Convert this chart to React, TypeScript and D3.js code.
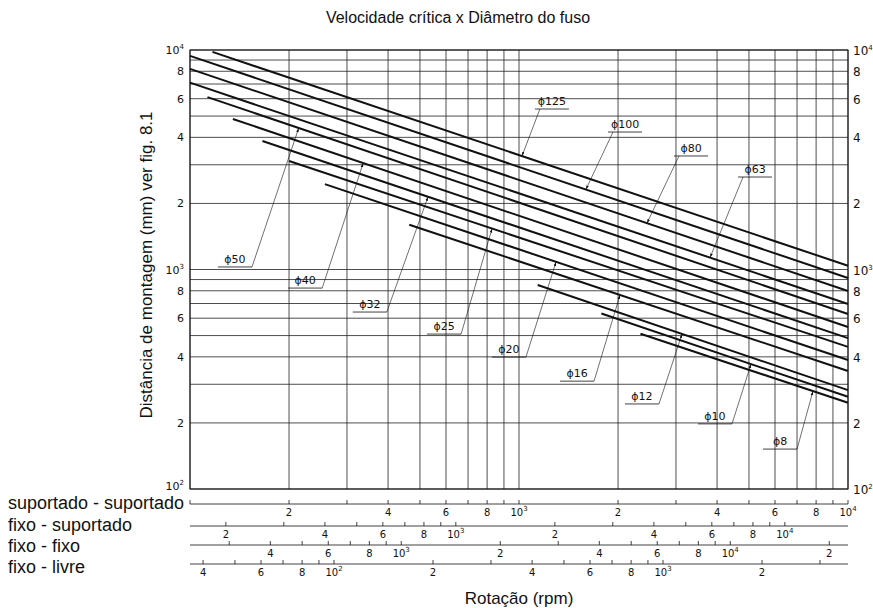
import React, { useEffect, useRef } from 'react';
import * as d3 from 'd3';

// curves: one straight line (log-log) per screw diameter
const diameters = ['125', '100', '80', '63', '50', '40', '32', '25', '20', '16', '12', '10', '8'];
const rpmStart = [117, 100, 100, 100, 113, 135, 166, 200, 257, 464, 1140, 1780, 2340];
const lenStart = [9800, 9400, 8200, 7100, 6100, 4850, 3850, 3120, 2450, 1600, 850, 630, 510];
const rpmEnd = [10000, 10000, 10000, 10000, 10000, 10000, 10000, 10000, 10000, 10000, 10000, 10000, 10000];
const lenEnd = [1040, 915, 798, 696, 627, 547, 487, 444, 387, 345, 282, 263, 247];

// callouts (label underline centre + where the arrow hits the curve)
const labelRpm = [1259, 2100, 3333, 5217, 137, 224, 352, 592, 932, 1501, 2365, 3942, 6215];
const labelLen = [5385, 4230, 3290, 2638, 1027, 823, 640, 508, 399, 310, 244, 198, 152];
const arrowRpm = [1021, 1597, 2449, 3807, 214, 336, 529, 828, 1296, 2028, 3130, 5073, 7826];

// y axis
const yTicks = [10000, 8000, 6000, 4000, 2000, 1000, 800, 600, 400, 200, 100];
const yTickText = ['10|4', '8', '6', '4', '2', '10|3', '8', '6', '4', '2', '10|2'];

// secondary rpm scales below the chart (value at left and right edge)
const mountings = ['suportado - suportado', 'fixo - suportado', 'fixo - fixo', 'fixo - livre'];
const mountMin = [100, 155.6, 228, 36.5];
const mountMax = [10000, 15560, 22800, 3650];
const labelledDigits = [2, 4, 6, 8];

const W = 873;
const H = 608;
const INK = '#111';
const numFont = '"DejaVu Sans", sans-serif';
const txtFont = '"Liberation Sans", Arial, sans-serif';

function putNum(sel: any, s: string) {
  const [base, exp] = s.split('|');
  sel.text(null);
  sel.append('tspan').text(base);
  if (exp) sel.append('tspan').attr('dy', -5).style('font-size', '7px').text(exp);
}

function fmtTick(v: number) {
  const e = Math.round(Math.log10(v));
  if (Math.abs(Math.pow(10, e) - v) < 1e-6 * v) return `10|${e}`;
  const d = Math.round(v / Math.pow(10, Math.floor(Math.log10(v))));
  return labelledDigits.includes(d) ? `${d}` : null;
}

function App() {
  const svgRef = useRef<SVGSVGElement>(null);

  useEffect(() => {
    if (!svgRef.current) return;
    const svg = d3.select(svgRef.current);
    svg.selectAll('*').remove();

    const left = 190, right = 848, top = 50, bottom = 489;
    const x = d3.scaleLog().domain([100, 10000]).range([left, right]);
    const y = d3.scaleLog().domain([100, 10000]).range([bottom, top]);

    svg.append('defs').append('marker')
      .attr('id', 'arr').attr('viewBox', '0 0 10 10')
      .attr('refX', 10).attr('refY', 5)
      .attr('markerWidth', 7).attr('markerHeight', 7)
      .attr('orient', 'auto')
      .append('path').attr('d', 'M0,2 L10,5 L0,8 Z').attr('fill', INK);

    // title
    svg.append('text')
      .attr('x', 458).attr('y', 23)
      .attr('text-anchor', 'middle')
      .style('font-family', txtFont).style('font-size', '16px').style('fill', INK)
      .text('Velocidade crítica x Diâmetro do fuso');

    // grid
    const grid = svg.append('g').attr('stroke', '#222').attr('stroke-width', 0.8);
    grid.selectAll('line.v').data(x.ticks()).join('line')
      .attr('class', 'v')
      .attr('x1', d => x(d)).attr('x2', d => x(d))
      .attr('y1', top).attr('y2', bottom);
    grid.selectAll('line.h').data(y.ticks()).join('line')
      .attr('class', 'h')
      .attr('x1', left).attr('x2', right)
      .attr('y1', d => y(d)).attr('y2', d => y(d));
    svg.append('rect')
      .attr('x', left).attr('y', top).attr('width', right - left).attr('height', bottom - top)
      .attr('fill', 'none').attr('stroke', INK).attr('stroke-width', 1);

    // y labels both sides
    yTicks.forEach((v, i) => {
      const l = svg.append('text')
        .attr('x', left - 6).attr('y', y(v) + (v === 100 ? 1 : 4)).attr('text-anchor', 'end')
        .style('font-family', numFont).style('font-size', '11px').style('fill', INK);
      putNum(l, yTickText[i]);
      const r = svg.append('text')
        .attr('x', right + 5).attr('y', y(v) + 5).attr('text-anchor', 'start')
        .style('font-family', numFont).style('font-size', '12px').style('fill', INK);
      putNum(r, yTickText[i]);
    });

    svg.append('text')
      .attr('transform', `translate(${152},${265}) rotate(-90)`)
      .attr('text-anchor', 'middle')
      .style('font-family', txtFont).style('font-size', '17px').style('fill', INK)
      .text('Distância de montagem (mm) ver fig. 8.1');

    // curves
    const line = d3.line<[number, number]>().x(d => x(d[0])).y(d => y(d[1]));
    const curves = svg.append('g');
    diameters.forEach((_, i) => {
      curves.append('path')
        .attr('d', line([[rpmStart[i], lenStart[i]], [rpmEnd[i], lenEnd[i]]]))
        .attr('fill', 'none').attr('stroke', INK).attr('stroke-width', 2);
    });

    // callouts
    const call = svg.append('g');
    diameters.forEach((d, i) => {
      const lx = x(labelRpm[i]);
      const ly = y(labelLen[i]);
      const x0 = x(rpmStart[i]), y0 = y(lenStart[i]);
      const x1 = x(rpmEnd[i]), y1 = y(lenEnd[i]);
      const tx = x(arrowRpm[i]);
      const ty = y0 + (tx - x0) / (x1 - x0) * (y1 - y0);
      const sx = tx > lx ? lx + 17 : lx - 12;
      call.append('line')
        .attr('x1', lx - 17).attr('x2', lx + 17).attr('y1', ly).attr('y2', ly)
        .attr('stroke', INK).attr('stroke-width', 0.8);
      call.append('line')
        .attr('x1', sx).attr('y1', ly).attr('x2', tx).attr('y2', ty)
        .attr('stroke', INK).attr('stroke-width', 0.6)
        .attr('marker-end', 'url(#arr)');
      call.append('text')
        .attr('x', lx).attr('y', ly - 4).attr('text-anchor', 'middle')
        .style('font-family', numFont).style('font-size', '11px').style('fill', INK)
        .text(`ϕ${d}`);
    });

    // mounting rpm scales
    const rowLine = [504, 526, 545, 564];
    const rowText = [503, 525, 546, 567];
    mountings.forEach((name, i) => {
      const s = d3.scaleLog().domain([mountMin[i], mountMax[i]]).range([left, right]);
      const g = svg.append('g');
      g.append('line')
        .attr('x1', left).attr('x2', right).attr('y1', rowLine[i]).attr('y2', rowLine[i])
        .attr('stroke', INK).attr('stroke-width', 0.8);
      s.ticks().forEach(v => {
        g.append('line')
          .attr('x1', s(v)).attr('x2', s(v)).attr('y1', rowLine[i]).attr('y2', rowLine[i] - 4)
          .attr('stroke', INK).attr('stroke-width', 0.8);
        const lab = fmtTick(v);
        if (lab && s(v) > left + 4) {
          const t = g.append('text')
            .attr('x', s(v)).attr('y', rowLine[i] + 12).attr('text-anchor', 'middle')
            .style('font-family', numFont).style('font-size', '10px').style('fill', INK);
          putNum(t, lab);
        }
      });
      svg.append('text')
        .attr('x', 8).attr('y', rowText[i] + 6)
        .style('font-family', txtFont).style('font-size', '18px').style('fill', INK)
        .text(name);
    });

    svg.append('text')
      .attr('x', 519).attr('y', 604).attr('text-anchor', 'middle')
      .style('font-family', txtFont).style('font-size', '17px').style('fill', INK)
      .text('Rotação (rpm)');
  }, []);

  return (
    <div style={{ position: 'absolute', left: 0, top: 0, width: W, height: H, background: '#fff' }}>
      <svg ref={svgRef} width={W} height={H} style={{ display: 'block' }} />
    </div>
  );
}

export default App;
